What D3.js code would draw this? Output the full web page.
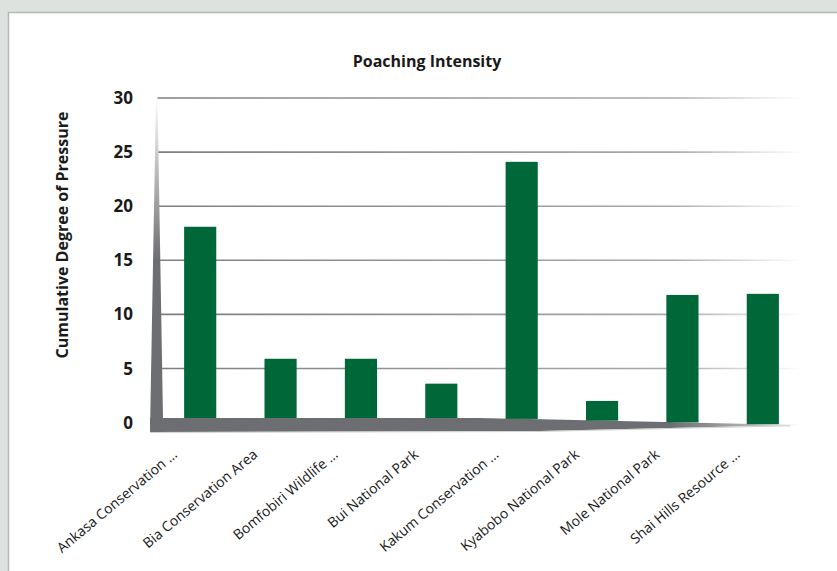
<!DOCTYPE html>
<html>
<head>
<meta charset="utf-8">
<script src="https://cdn.jsdelivr.net/npm/d3@7"></script>
<style>
  body { margin: 0; background: #dde2df; }
  text { font-family: "Open Sans", "Noto Sans", sans-serif; fill: #1a1a1a; }
</style>
</head>
<body>
<div id="chart"></div>
<script>
// data
var parks = ["Ankasa Conservation ...", "Bia Conservation Area", "Bomfobiri Wildlife ...",
             "Bui National Park", "Kakum Conservation ...", "Kyabobo National Park",
             "Mole National Park", "Shai Hills Resource ..."];
var pressure = [18.1, 5.9, 5.9, 3.6, 24.1, 2.0, 11.8, 11.9];
var yTicks = [0, 5, 10, 15, 20, 25, 30];

var width = 837, height = 571;

var svg = d3.select("#chart").append("svg")
    .attr("width", width)
    .attr("height", height);

var defs = svg.append("defs");

// panel
svg.append("rect").attr("x", 8).attr("y", 12).attr("width", width).attr("height", height)
    .attr("fill", "#fff");
svg.append("path").attr("d", "M8.5," + height + "V12.5H" + width)
    .attr("fill", "none").attr("stroke", "#b4b8b6").attr("stroke-width", 1.5);

var y = d3.scaleLinear().domain([0, 30]).range([422.6, 98]);
var x = d3.scaleBand().domain(parks).range([160, 803]).paddingInner(0.6).paddingOuter(0.3);

// wall inner edge and floor top edge
function wallX(yy) { return 157 + (yy - 98) * 6 / 320; }
function floorTop(xx) { return xx < 480 ? 418 : 418 + (xx - 480) * 7 / 320; }

var gWall = defs.append("linearGradient").attr("id", "wallGrad")
    .attr("gradientUnits", "userSpaceOnUse")
    .attr("x1", 0).attr("y1", 96).attr("x2", 0).attr("y2", 260);
gWall.append("stop").attr("offset", 0).attr("stop-color", "#ffffff");
gWall.append("stop").attr("offset", 1).attr("stop-color", "#6d6e71");

var gFloor = defs.append("linearGradient").attr("id", "floorGrad")
    .attr("gradientUnits", "userSpaceOnUse")
    .attr("x1", 150).attr("y1", 0).attr("x2", 802).attr("y2", 0);
gFloor.append("stop").attr("offset", 0.8).attr("stop-color", "#6d6e71");
gFloor.append("stop").attr("offset", 1).attr("stop-color", "#e0e0e0");

var gGrid = defs.append("linearGradient").attr("id", "gridGrad")
    .attr("gradientUnits", "userSpaceOnUse")
    .attr("x1", 158).attr("y1", 0).attr("x2", 802).attr("y2", 0);
gGrid.append("stop").attr("offset", 0).attr("stop-color", "#7d7e81");
gGrid.append("stop").attr("offset", 0.8).attr("stop-color", "#a9aaac");
gGrid.append("stop").attr("offset", 1).attr("stop-color", "#ffffff");

// gridlines
svg.append("g").selectAll("line")
    .data(yTicks.filter(function(d) { return d > 0; }))
    .enter().append("line")
    .attr("x1", function(d) { return wallX(y(d)); })
    .attr("x2", 802)
    .attr("y1", function(d) { return y(d); })
    .attr("y2", function(d) { return y(d) + 0.01; })
    .attr("stroke", "url(#gridGrad)")
    .attr("stroke-width", 1.6);

// wall
svg.append("path")
    .attr("d", "M156,96L157.5,96L" + wallX(418) + ",418L150,432Z")
    .attr("fill", "url(#wallGrad)");

// floor
svg.append("path")
    .attr("d", "M150,418L480,418L802,425L540,431L150,432Z")
    .attr("fill", "url(#floorGrad)");
svg.append("path")
    .attr("d", "M150,432.5L540,431.5L790,425.8")
    .attr("fill", "none").attr("stroke", "#c4c5c6").attr("stroke-width", 0.8);

// bars
svg.append("g").selectAll("rect")
    .data(pressure)
    .enter().append("rect")
    .attr("x", function(d, i) { return x(parks[i]); })
    .attr("width", x.bandwidth())
    .attr("y", function(d) { return y(d); })
    .attr("height", function(d, i) { return floorTop(x(parks[i]) + x.bandwidth() / 2) - y(d); })
    .attr("fill", "#006838");

// y tick labels
svg.append("g").selectAll("text")
    .data(yTicks)
    .enter().append("text")
    .attr("x", 133)
    .attr("y", function(d) { return y(d) + 6; })
    .attr("text-anchor", "end")
    .style("font-weight", "bold")
    .style("font-size", "17px")
    .text(function(d) { return d; });

// x labels
svg.append("g").selectAll("text")
    .data(parks)
    .enter().append("text")
    .attr("transform", function(d) {
      return "translate(" + (x(d) + x.bandwidth() / 2 - 22) + ",456) rotate(-40)";
    })
    .attr("text-anchor", "end")
    .style("font-size", "14px")
    .text(function(d) { return d; });

// title
svg.append("text")
    .attr("x", 427).attr("y", 67)
    .attr("text-anchor", "middle")
    .style("font-weight", "bold")
    .style("font-size", "16px")
    .text("Poaching Intensity");

// y axis title
svg.append("text")
    .attr("transform", "translate(68,235) rotate(-90)")
    .attr("text-anchor", "middle")
    .style("font-weight", "bold")
    .style("font-size", "16px")
    .text("Cumulative Degree of Pressure");
</script>
</body>
</html>
